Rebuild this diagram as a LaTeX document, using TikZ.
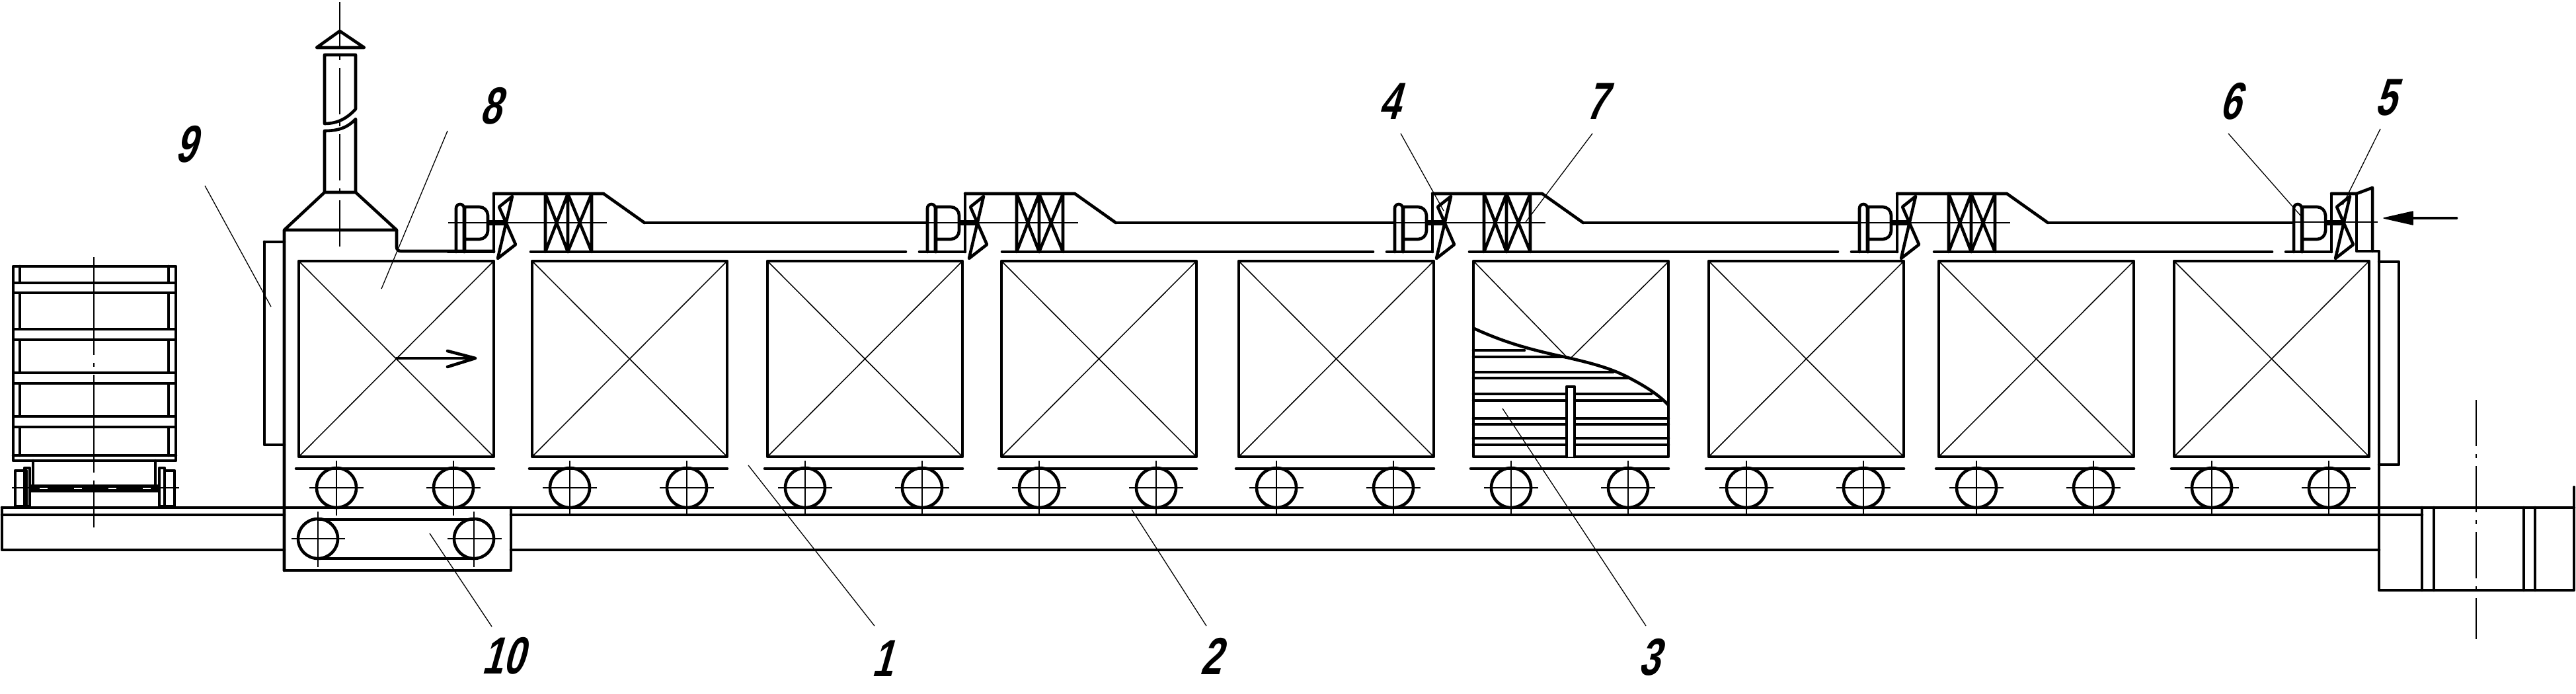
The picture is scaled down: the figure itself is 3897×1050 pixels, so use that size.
\documentclass[tikz,border=0pt]{standalone}
\usepackage{fontspec}
\newfontfamily\gostfont[FakeSlant = 0.28, FakeStretch = 0.72]{Liberation Sans}
\usetikzlibrary{
    calc
}
\tikzset {
    main/.style = {line width = 0.46mm, line cap = round, line join = round},
    fine/.style = {line width = 0.15mm},
    leader/.style = {line width = 0.13mm},
    axis/.style = {line width = 0.14mm, dash pattern = on #1 off 1.2mm on 0.6mm off 1.2mm},
    axis/.default = 7mm,
    number/.style = {inner sep = 0pt, font = \gostfont\bfseries\fontsize{22.5}{24}\selectfont},
    strip/.style = {main, fill = white},
    %
    wheel/.pic = {
        \draw [main] (0, 0) circle [radius = 3mm];
        \draw [fine] (0, -41) -- (0, 42);
        \draw [fine] (-41, 0) -- (41, 0);
    },
    wagon frame/.pic = {
        \draw [main] (0, 395) rectangle (295, 691);
        \draw [main] (-4, 709) -- (295, 709);
        \pic at (57, 738) {wheel};
        \pic at (234, 738) {wheel};
    },
    wagon/.pic = {
        \pic {wagon frame};
        \draw [fine] (0, 395) -- (295, 691);
        \draw [fine] (295, 395) -- (0, 691);
    },
    fan set/.pic = {
        \draw [main] (0, 381) -- (0, 293);
        \draw [main, rounded corners = 0.6mm] (-57, 381) -- (-57, 309) -- (-45, 309) -- (-45, 381);
        \draw [main] (-44, 381) [sharp corners] -- (-44, 313) [rounded corners = 1.3mm]
            -- (-9, 313) -- (-9, 362) [sharp corners] -- (-44, 362);
        \draw [line width = 0.75mm] (-9, 337) -- (20, 337);
        \draw [main] (28, 297) -- (8, 313) -- (33, 370) -- (6, 391) -- cycle;
        \draw [main] (-69, 381) -- (0, 381);
    },
    duct/.pic = {
        \pic {fan set};
        \draw [main] (0, 293) -- (166, 293) -- (228, 337);
        \draw [main] (78, 293) -- (78, 381) -- (112, 293) -- (112, 381) -- (78, 293);
        \draw [main] (112, 293) -- (148, 381) -- (148, 293) -- (112, 381);
        \draw [fine] (-69, 337) -- (171, 337);
        \coordinate (-out) at (228, 337);
        \coordinate (-in) at (-60, 337);
        \coordinate (-low) at (56, 381);
        \coordinate (-gap) at (-90, 381);
    }
}
\begin{document}
\begin{tikzpicture}[x = 0.1mm, y = -0.1mm]
    \useasboundingbox (0, 0) rectangle (3897, 1050);
    % rails
    \draw [main] (3, 768) -- (3894, 768);
    \draw [main] (3, 768) -- (3, 832) -- (430, 832);
    \draw [main] (3, 779) -- (430, 779);
    \draw [main] (773, 779) -- (3664, 779);
    \draw [main] (773, 832) -- (3599, 832);
    % wagon waiting outside
    \draw [main] (20, 403) rectangle (266, 697);
    \draw [main] (30, 403) -- (30, 689);
    \draw [main] (255, 403) -- (255, 689);
    \draw [strip] (20, 428) rectangle (266, 443);
    \draw [strip] (20, 498) rectangle (266, 514);
    \draw [strip] (20, 564) rectangle (266, 580);
    \draw [strip] (20, 630) rectangle (266, 646);
    \draw [main] (20, 689) -- (266, 689);
    \draw [main] (50, 697) -- (50, 735);
    \draw [main] (235, 697) -- (235, 735);
    \draw [main] (23, 712) rectangle (40, 766);
    \draw [main] (37, 708) rectangle (45, 766);
    \draw [main] (241, 708) rectangle (249, 766);
    \draw [main] (249, 712) rectangle (264, 766);
    \draw [fine] (18, 738) -- (271, 738);
    \draw [main] (45, 735) rectangle (241, 743);
    \draw [main, fill] (45, 735) rectangle (241, 743);
    \draw [fine, white, dash pattern = on 1.2mm off 4mm] (60, 739) -- (235, 739);
    \draw [axis = 14.8mm] (142, 389) -- (142, 798);
    % kiln shell and stack
    \draw [main] (400, 366) -- (430, 366);
    \draw [main] (400, 366) -- (400, 673) -- (430, 673);
    \draw [main] (430, 863) -- (430, 348) -- (491, 291) -- (538, 291) -- (600, 348) -- (430, 348);
    \draw [main, rounded corners = 0.6mm] (600, 348) -- (600, 380) -- (747, 380);
    \draw [main] (430, 863) -- (773, 863) -- (773, 768);
    \draw [main] (491, 291) -- (491, 198) .. controls (512, 198) and (526, 193) .. (538, 180) -- (538, 291);
    \draw [main] (491, 187) -- (491, 83) -- (538, 83) -- (538, 165) .. controls (526, 178) and (512, 187) .. (491, 187);
    \draw [main] (479, 72) -- (514, 47) -- (551, 72) -- cycle;
    \draw [axis] (514, 3) -- (514, 382);
    % right end of the shell
    \draw [main] (3527, 293) -- (3565, 293) -- (3589, 284) -- (3589, 380);
    \draw [main] (3565, 293) -- (3565, 380) -- (3599, 380) -- (3599, 893) -- (3894, 893) -- (3894, 737);
    \draw [main] (3599, 396) -- (3629, 396) -- (3629, 703) -- (3599, 703);
    \draw [main] (3664, 768) -- (3664, 893);
    \draw [main] (3682, 768) -- (3682, 893);
    \draw [main] (3818, 768) -- (3818, 893);
    \draw [main] (3835, 768) -- (3835, 893);
    \draw [axis] (3746, 605) -- (3746, 967);
    % pusher
    \draw [main] (481, 815) circle [radius = 3mm];
    \draw [main] (717, 815) circle [radius = 3mm];
    \draw [main] (481, 786) -- (717, 786);
    \draw [main] (481, 845) -- (717, 845);
    \draw [fine] (481, 774) -- (481, 858);
    \draw [fine] (717, 774) -- (717, 858);
    \draw [fine] (441, 815) -- (522, 815);
    \draw [fine] (677, 815) -- (759, 815);
    % wagons
    \pic at (452, 0) {wagon};
    \pic at (805, 0) {wagon};
    \pic at (1161, 0) {wagon};
    \pic at (1515, 0) {wagon};
    \pic at (1874, 0) {wagon};
    \pic at (2229, 0) {wagon frame};
    \pic at (2585, 0) {wagon};
    \pic at (2933, 0) {wagon};
    \pic at (3289, 0) {wagon};
    % wagon with the load shown
    \draw [fine] (2231, 397) -- (2371, 541);
    \draw [fine] (2523, 397) -- (2377, 541);
    \draw [main] (2229, 530) -- (2306, 530);
    \draw [main] (2229, 540) -- (2368, 540);
    \draw [main] (2229, 563) -- (2440, 563);
    \draw [main] (2229, 572) -- (2465, 572);
    \draw [main] (2229, 596) -- (2498, 596);
    \draw [main] (2229, 606) -- (2513, 606);
    \draw [main] (2229, 633) -- (2524, 633);
    \draw [main] (2229, 642) -- (2524, 642);
    \draw [main] (2229, 663) -- (2524, 663);
    \draw [main] (2229, 673) -- (2524, 673);
    \draw [main, fill = white] (2370, 691) -- (2370, 585) -- (2382, 585) -- (2382, 691);
    \draw [main] (2230, 497) .. controls (2280, 520) and (2320, 530) .. (2371, 541)
        .. controls (2410, 550) and (2440, 558) .. (2467, 573)
        .. controls (2490, 585) and (2510, 598) .. (2523, 612);
    % circulation ducts
    \pic (d1) at (747, 0) {duct};
    \pic (d2) at (1460, 0) {duct};
    \pic (d3) at (2167, 0) {duct};
    \pic (d4) at (2870, 0) {duct};
    \pic at (3527, 0) {fan set};
    \coordinate (d5-in) at (3468, 337);
    \coordinate (d5-gap) at (3437, 381);
    \draw [main] (d1-out) -- (d2-in);
    \draw [main] (d2-out) -- (d3-in);
    \draw [main] (d3-out) -- (d4-in);
    \draw [main] (d4-out) -- (d5-in);
    \draw [main] (d1-low) -- (d2-gap);
    \draw [main] (d2-low) -- (d3-gap);
    \draw [main] (d3-low) -- (d4-gap);
    \draw [main] (d4-low) -- (d5-gap);
    \draw [fine] (3458, 336) -- (3597, 336);
    % motion arrows
    \draw [main] (600, 542) -- (719, 542);
    \draw [main] (677, 531) -- (719, 542) -- (677, 555);
    \draw [main] (3716, 330) -- (3650, 330);
    \draw [fill, line join = round] (3606, 330) -- (3650, 320) -- (3650, 340) -- cycle;
    % numbers
    \node [number] (n1) at (1334, 996) {1};
    \node [number] (n2) at (1831, 993) {2};
    \node [number] (n3) at (2494, 994) {3};
    \node [number] (n4) at (2101, 153) {4};
    \node [number] (n5) at (3608, 148) {5};
    \node [number] (n6) at (3373, 153) {6};
    \node [number] (n7) at (2414, 153) {7};
    \node [number] (n8) at (741, 160) {8};
    \node [number] (n9) at (280, 218) {9};
    \node [number] (n10) at (760, 992) {10};
    % leader ends
    \coordinate (a1) at (1323, 947);
    \coordinate (b1) at (1132, 704);
    \coordinate (a2) at (1825, 947);
    \coordinate (b2) at (1712, 771);
    \coordinate (a3) at (2490, 947);
    \coordinate (b3) at (2273, 618);
    \coordinate (a4) at (2119, 202);
    \coordinate (b4) at (2184, 319);
    \coordinate (a5) at (3601, 195);
    \coordinate (b5) at (3544, 310);
    \coordinate (a6) at (3371, 202);
    \coordinate (b6) at (3481, 327);
    \coordinate (a7) at (2409, 202);
    \coordinate (b7) at (2308, 336);
    \coordinate (a8) at (677, 198);
    \coordinate (b8) at (577, 437);
    \coordinate (a9) at (310, 281);
    \coordinate (b9) at (410, 464);
    \coordinate (a10) at (744, 948);
    \coordinate (b10) at (650, 807);
    \draw [leader] (a1) -- (b1);
    \draw [leader] (a2) -- (b2);
    \draw [leader] (a3) -- (b3);
    \draw [leader] (a4) -- (b4);
    \draw [leader] (a5) -- (b5);
    \draw [leader] (a6) -- (b6);
    \draw [leader] (a7) -- (b7);
    \draw [leader] (a8) -- (b8);
    \draw [leader] (a9) -- (b9);
    \draw [leader] (a10) -- (b10);
\end{tikzpicture}
\end{document}
